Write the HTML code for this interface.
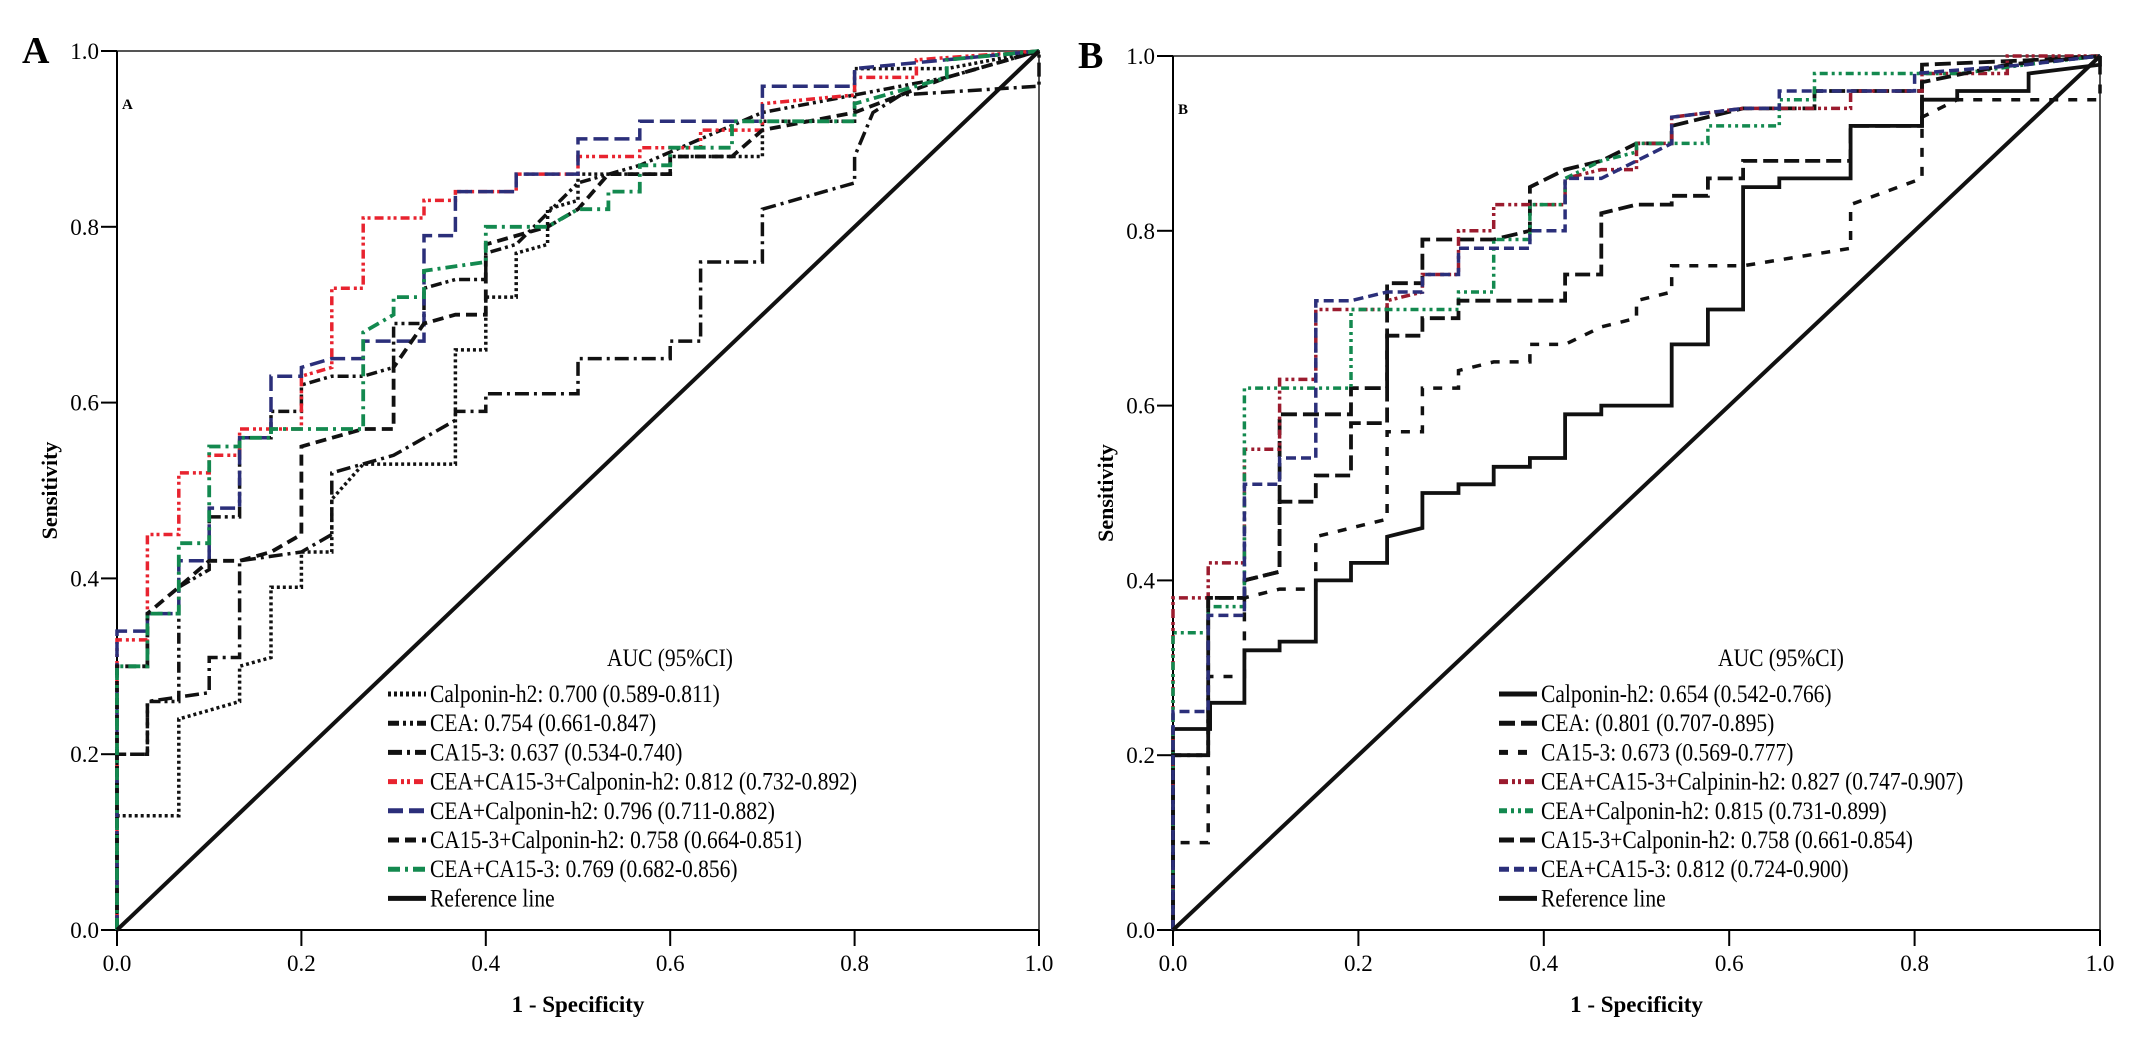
<!DOCTYPE html>
<html><head><meta charset="utf-8"><style>
html,body{margin:0;padding:0;background:#fff;}
svg{display:block;font-family:"Liberation Serif",serif;}
</style></head><body>
<svg id="chart" width="2138" height="1041" viewBox="0 0 2138 1041" xmlns="http://www.w3.org/2000/svg"></svg>
<script>
// ---------- Panel A data ----------
const ticks = [0, 0.2, 0.4, 0.6, 0.8, 1.0];
const tickLabels = ["0.0","0.2","0.4","0.6","0.8","1.0"];
const aCalFpr = [0,0,0.067,0.067,0.1,0.133,0.133,0.167,0.167,0.2,0.2,0.233,0.233,0.267,0.367,0.367,0.4,0.4,0.433,0.433,0.467,0.467,0.5,0.5,0.6,0.6,0.7,0.7,0.8,0.8,0.9,1];
const aCalTpr = [0,0.13,0.13,0.24,0.25,0.26,0.30,0.31,0.39,0.39,0.43,0.43,0.49,0.53,0.53,0.66,0.66,0.72,0.72,0.77,0.78,0.82,0.83,0.86,0.86,0.88,0.88,0.92,0.92,0.98,0.98,1];
const aCeaFpr = [0,0,0.033,0.033,0.067,0.067,0.1,0.1,0.133,0.133,0.167,0.167,0.2,0.2,0.233,0.267,0.3,0.3,0.333,0.333,0.367,0.4,0.4,0.433,0.5,0.567,0.633,0.7,0.8,0.9,1];
const aCeaTpr = [0,0.20,0.20,0.26,0.26,0.39,0.41,0.47,0.47,0.56,0.56,0.59,0.59,0.62,0.63,0.63,0.64,0.69,0.69,0.73,0.74,0.74,0.77,0.78,0.85,0.87,0.90,0.93,0.95,0.97,1];
const aCa153Fpr = [0,0,0.033,0.033,0.1,0.1,0.133,0.133,0.2,0.233,0.233,0.3,0.367,0.367,0.4,0.4,0.5,0.5,0.6,0.6,0.633,0.633,0.7,0.7,0.8,0.8,0.82,0.85,1,1];
const aCa153Tpr = [0,0.20,0.20,0.26,0.27,0.31,0.31,0.42,0.43,0.45,0.52,0.54,0.58,0.59,0.59,0.61,0.61,0.65,0.65,0.67,0.67,0.76,0.76,0.82,0.85,0.88,0.93,0.95,0.96,1];
const aAllFpr = [0,0,0.033,0.033,0.067,0.067,0.1,0.1,0.133,0.133,0.2,0.2,0.233,0.233,0.267,0.267,0.333,0.333,0.367,0.367,0.433,0.433,0.5,0.5,0.567,0.567,0.633,0.633,0.7,0.7,0.8,0.8,0.867,0.867,1];
const aAllTpr = [0,0.33,0.33,0.45,0.45,0.52,0.52,0.54,0.54,0.57,0.57,0.63,0.64,0.73,0.73,0.81,0.81,0.83,0.83,0.84,0.84,0.86,0.86,0.88,0.88,0.89,0.89,0.91,0.91,0.94,0.95,0.97,0.97,0.99,1];
const aCeaCalFpr = [0,0,0.033,0.033,0.067,0.067,0.1,0.1,0.133,0.133,0.167,0.167,0.2,0.2,0.233,0.267,0.267,0.333,0.333,0.367,0.367,0.433,0.433,0.5,0.5,0.567,0.567,0.7,0.7,0.8,0.8,0.9,1];
const aCeaCalTpr = [0,0.34,0.34,0.36,0.36,0.42,0.42,0.48,0.48,0.56,0.56,0.63,0.63,0.64,0.65,0.65,0.67,0.67,0.79,0.79,0.84,0.84,0.86,0.86,0.90,0.90,0.92,0.92,0.96,0.96,0.98,0.99,1];
const aCaCalFpr = [0,0,0.033,0.033,0.067,0.1,0.133,0.167,0.2,0.2,0.267,0.3,0.3,0.333,0.367,0.4,0.4,0.467,0.5,0.533,0.6,0.6,0.667,0.7,0.8,0.9,1];
const aCaCalTpr = [0,0.30,0.30,0.36,0.39,0.42,0.42,0.43,0.45,0.55,0.57,0.57,0.64,0.69,0.70,0.70,0.78,0.80,0.82,0.86,0.86,0.88,0.88,0.91,0.93,0.97,1];
const aCeaCaFpr = [0,0,0.033,0.033,0.067,0.067,0.1,0.1,0.133,0.133,0.167,0.167,0.267,0.267,0.3,0.3,0.333,0.333,0.4,0.4,0.467,0.5,0.533,0.533,0.567,0.567,0.6,0.6,0.667,0.667,0.8,0.8,0.9,0.9,1];
const aCeaCaTpr = [0,0.30,0.30,0.36,0.36,0.44,0.44,0.55,0.55,0.56,0.56,0.57,0.57,0.68,0.70,0.72,0.72,0.75,0.76,0.80,0.80,0.82,0.82,0.84,0.84,0.87,0.87,0.89,0.89,0.92,0.92,0.94,0.97,0.99,1];
// ---------- Panel B data ----------
const bCalFpr = [0,0,0.04,0.04,0.077,0.077,0.115,0.115,0.154,0.154,0.192,0.192,0.231,0.231,0.269,0.269,0.308,0.308,0.346,0.346,0.385,0.385,0.423,0.423,0.462,0.462,0.538,0.538,0.577,0.577,0.615,0.615,0.654,0.654,0.731,0.731,0.808,0.808,0.846,0.846,0.923,0.923,1,1];
const bCalTpr = [0,0.23,0.23,0.26,0.26,0.32,0.32,0.33,0.33,0.40,0.40,0.42,0.42,0.45,0.46,0.50,0.50,0.51,0.51,0.53,0.53,0.54,0.54,0.59,0.59,0.60,0.60,0.67,0.67,0.71,0.71,0.85,0.85,0.86,0.86,0.92,0.92,0.95,0.95,0.96,0.96,0.98,0.99,1];
const bCeaFpr = [0,0,0.038,0.038,0.077,0.077,0.115,0.115,0.192,0.192,0.231,0.231,0.269,0.269,0.346,0.385,0.385,0.423,0.462,0.5,0.538,0.538,0.615,0.692,0.692,0.808,0.808,0.92,1];
const bCeaTpr = [0,0.20,0.20,0.38,0.38,0.40,0.41,0.59,0.59,0.62,0.62,0.74,0.74,0.79,0.79,0.80,0.85,0.87,0.88,0.90,0.90,0.92,0.94,0.94,0.96,0.96,0.99,0.995,1];
const bCa153Fpr = [0,0,0.038,0.038,0.077,0.077,0.115,0.154,0.154,0.192,0.231,0.231,0.269,0.269,0.308,0.308,0.346,0.385,0.385,0.423,0.462,0.5,0.5,0.538,0.538,0.615,0.731,0.731,0.808,0.808,0.846,1,1];
const bCa153Tpr = [0,0.10,0.10,0.29,0.29,0.38,0.39,0.39,0.45,0.46,0.47,0.57,0.57,0.62,0.62,0.64,0.65,0.65,0.67,0.67,0.69,0.70,0.72,0.73,0.76,0.76,0.78,0.83,0.86,0.93,0.95,0.95,1];
const bAllFpr = [0,0,0.038,0.038,0.077,0.077,0.115,0.115,0.154,0.154,0.231,0.231,0.269,0.269,0.308,0.308,0.346,0.346,0.423,0.423,0.462,0.5,0.5,0.538,0.538,0.615,0.731,0.731,0.808,0.808,0.9,0.9,1];
const bAllTpr = [0,0.38,0.38,0.42,0.42,0.55,0.55,0.63,0.63,0.71,0.71,0.72,0.73,0.75,0.75,0.80,0.80,0.83,0.83,0.86,0.87,0.87,0.90,0.90,0.93,0.94,0.94,0.96,0.96,0.98,0.98,1,1];
const bCeaCalFpr = [0,0,0.038,0.038,0.077,0.077,0.192,0.192,0.308,0.308,0.346,0.346,0.385,0.385,0.423,0.423,0.462,0.5,0.5,0.577,0.577,0.654,0.654,0.692,0.692,0.85,0.92,1];
const bCeaCalTpr = [0,0.34,0.34,0.37,0.37,0.62,0.62,0.71,0.71,0.73,0.73,0.79,0.79,0.83,0.83,0.86,0.88,0.89,0.90,0.90,0.92,0.92,0.95,0.95,0.98,0.98,0.99,1];
const bCaCalFpr = [0,0,0.038,0.038,0.077,0.077,0.115,0.115,0.154,0.154,0.192,0.192,0.231,0.231,0.269,0.269,0.308,0.308,0.423,0.423,0.462,0.462,0.5,0.538,0.538,0.577,0.577,0.615,0.615,0.731,0.731,0.808,0.808,0.9,1];
const bCaCalTpr = [0,0.20,0.20,0.38,0.38,0.40,0.41,0.49,0.49,0.52,0.52,0.58,0.58,0.68,0.68,0.70,0.70,0.72,0.72,0.75,0.75,0.82,0.83,0.83,0.84,0.84,0.86,0.86,0.88,0.88,0.92,0.92,0.97,0.99,1];
const bCeaCaFpr = [0,0,0.038,0.038,0.077,0.077,0.115,0.115,0.154,0.154,0.192,0.231,0.269,0.269,0.308,0.308,0.385,0.385,0.423,0.423,0.462,0.5,0.538,0.538,0.615,0.654,0.654,0.8,0.8,0.92,1];
const bCeaCaTpr = [0,0.25,0.25,0.36,0.36,0.51,0.51,0.54,0.54,0.72,0.72,0.73,0.73,0.75,0.75,0.78,0.78,0.80,0.80,0.86,0.86,0.88,0.90,0.93,0.94,0.94,0.96,0.96,0.98,0.99,1];
const refFpr = [0, 1];
const refTpr = [0, 1];

const legendA = ["Calponin-h2: 0.700 (0.589-0.811)","CEA: 0.754 (0.661-0.847)","CA15-3: 0.637 (0.534-0.740)","CEA+CA15-3+Calponin-h2: 0.812 (0.732-0.892)","CEA+Calponin-h2: 0.796 (0.711-0.882)","CA15-3+Calponin-h2: 0.758 (0.664-0.851)","CEA+CA15-3: 0.769 (0.682-0.856)","Reference line"];
const legendB = ["Calponin-h2: 0.654 (0.542-0.766)","CEA: (0.801 (0.707-0.895)","CA15-3: 0.673 (0.569-0.777)","CEA+CA15-3+Calpinin-h2: 0.827 (0.747-0.907)","CEA+Calponin-h2: 0.815 (0.731-0.899)","CA15-3+Calponin-h2: 0.758 (0.661-0.854)","CEA+CA15-3: 0.812 (0.724-0.900)","Reference line"];

const NS = "http://www.w3.org/2000/svg";
const svg = document.getElementById("chart");
function mk(tag, attrs, parent, text) {
  const e = document.createElementNS(NS, tag);
  for (const k in attrs) e.setAttribute(k, attrs[k]);
  if (text !== undefined) e.textContent = text;
  (parent || svg).appendChild(e);
  return e;
}

const RED = "#e8232f", BLUE = "#2b2f7a", GREEN = "#13894f", BLK = "#111";
const stylesA = [
  {c: BLK, d: "3,3", w: 3.5}, {c: BLK, d: "11,4,3,4,3,4", w: 3.5}, {c: BLK, d: "14,5,3,5", w: 3.5},
  {c: RED, d: "9,4,3,3,3,4", w: 3.5}, {c: BLUE, d: "15,6", w: 3.5}, {c: BLK, d: "11,6", w: 3.8},
  {c: GREEN, d: "12,5,3,5", w: 3.8}, {c: BLK, d: "", w: 4}
];
const stylesB = [
  {c: BLK, d: "", w: 3.8}, {c: BLK, d: "16,6", w: 3.8}, {c: BLK, d: "9,10", w: 3.5},
  {c: "#9b1b2e", d: "9,4,3,3,3,4", w: 3.5}, {c: GREEN, d: "8,4,3,4,3,4", w: 3.5}, {c: BLK, d: "15,6", w: 3.8},
  {c: BLUE, d: "10,5", w: 3.5}, {c: BLK, d: "", w: 4}
];

function panel(cfg) {
  const g = mk("g", {});
  
  
  const sx = v => cfg.x0 + v * (cfg.x1 - cfg.x0);
  const sy = v => cfg.y0 - v * (cfg.y0 - cfg.y1);
  const fr = mk("rect", {x: cfg.x0, y: cfg.y1, width: cfg.x1 - cfg.x0, height: cfg.y0 - cfg.y1, fill: "none", stroke: "#555", "stroke-width": 2}, g);
  
  
  const ya = mk("line", {x1: cfg.x0, y1: cfg.y1, x2: cfg.x0, y2: cfg.y0, stroke: "#000", "stroke-width": 2}, g);
  
  
  const xa = mk("line", {x1: cfg.x0, y1: cfg.y0, x2: cfg.x1, y2: cfg.y0, stroke: "#000", "stroke-width": 2}, g);
  
  
  ticks.forEach((t, i) => {
    const tl = mk("line", {x1: cfg.x0 - 16, y1: sy(t), x2: cfg.x0, y2: sy(t), stroke: "#000", "stroke-width": 2}, g);
    
    
    const ty = mk("text", {x: cfg.x0 - 18, y: sy(t) + 8, "font-size": 23, "text-anchor": "end"}, g, tickLabels[i]);
    
    
    const tx = mk("line", {x1: sx(t), y1: cfg.y0, x2: sx(t), y2: cfg.y0 + 16, stroke: "#000", "stroke-width": 2}, g);
    
    
    const txl = mk("text", {x: sx(t), y: cfg.y0 + 41, "font-size": 23, "text-anchor": "middle"}, g, tickLabels[i]);
    
    
  });
  const xt = mk("text", {x: (cfg.x0 + cfg.x1) / 2, y: cfg.y0 + 82, "font-size": 23, "font-weight": "bold", "text-anchor": "middle"}, g, "1 - Specificity");
  
  
  const yt = mk("text", {x: 0, y: 0, "font-size": 22, "font-weight": "bold", "text-anchor": "middle", transform: `translate(${cfg.x0 - 60},${(cfg.y0 + cfg.y1) / 2}) rotate(-90)`}, g, "Sensitivity");
  
  
  const pl = mk("text", {x: cfg.x0 - 95, y: cfg.y1 + 12, "font-size": 38, "font-weight": "bold"}, g, cfg.letter);
  
  
  const il = mk("text", {x: cfg.x0 + 5, y: cfg.y1 + 58, "font-size": 15, "font-weight": "bold"}, g, cfg.letter);
  
  
  cfg.series.forEach((s, i) => {
    const st = cfg.styles[i];
    const pts = s.fpr.map((f, k) => sx(f).toFixed(1) + "," + sy(s.tpr[k]).toFixed(1)).join(" ");
    const p = mk("polyline", {points: pts, fill: "none", stroke: st.c, "stroke-width": st.w, "stroke-dasharray": st.d || "none", "stroke-linejoin": "miter"}, g);
    
    
  });
  const lg = mk("g", {}, g);
  
  
  const lt = mk("text", {x: 0, y: 0, "font-size": 25, "text-anchor": "middle", transform: `translate(${cfg.legX + 240},666) scale(0.86,1)`}, lg, "AUC (95%CI)");
  
  
  cfg.legend.forEach((txt, i) => {
    const st = cfg.styles[i];
    const y = 694 + i * 29.2;
    const ls = mk("line", {x1: cfg.legX - 42, y1: y, x2: cfg.legX - 4, y2: y, stroke: st.c, "stroke-width": 5, "stroke-dasharray": st.d || "none"}, lg);
    
    
    const le = mk("text", {x: 0, y: 0, "font-size": 25, transform: `translate(${cfg.legX},${y + 8}) scale(0.86,1)`}, lg, txt);
    
    
  });
}

panel({name: "panel-a", letter: "A", x0: 117, x1: 1039, y0: 930, y1: 51, legX: 430, legend: legendA, styles: stylesA,
  series: [
    {name: "curve-calponin-h2", fpr: aCalFpr, tpr: aCalTpr},
    {name: "curve-cea", fpr: aCeaFpr, tpr: aCeaTpr},
    {name: "curve-ca15-3", fpr: aCa153Fpr, tpr: aCa153Tpr},
    {name: "curve-cea-ca15-3-calponin", fpr: aAllFpr, tpr: aAllTpr},
    {name: "curve-cea-calponin", fpr: aCeaCalFpr, tpr: aCeaCalTpr},
    {name: "curve-ca15-3-calponin", fpr: aCaCalFpr, tpr: aCaCalTpr},
    {name: "curve-cea-ca15-3", fpr: aCeaCaFpr, tpr: aCeaCaTpr},
    {name: "reference-line", fpr: refFpr, tpr: refTpr}
  ]});
panel({name: "panel-b", letter: "B", x0: 1173, x1: 2100, y0: 930, y1: 56, legX: 1541, legend: legendB, styles: stylesB,
  series: [
    {name: "curve-calponin-h2", fpr: bCalFpr, tpr: bCalTpr},
    {name: "curve-cea", fpr: bCeaFpr, tpr: bCeaTpr},
    {name: "curve-ca15-3", fpr: bCa153Fpr, tpr: bCa153Tpr},
    {name: "curve-cea-ca15-3-calponin", fpr: bAllFpr, tpr: bAllTpr},
    {name: "curve-cea-calponin", fpr: bCeaCalFpr, tpr: bCeaCalTpr},
    {name: "curve-ca15-3-calponin", fpr: bCaCalFpr, tpr: bCaCalTpr},
    {name: "curve-cea-ca15-3", fpr: bCeaCaFpr, tpr: bCeaCaTpr},
    {name: "reference-line", fpr: refFpr, tpr: refTpr}
  ]});
</script>
</body></html>
